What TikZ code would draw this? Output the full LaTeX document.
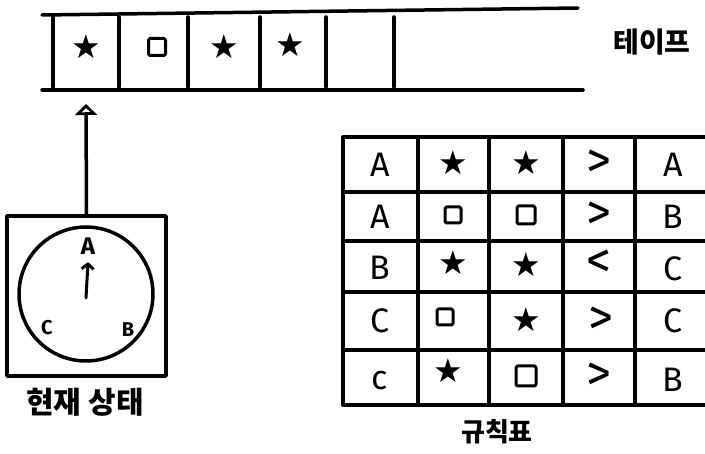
\documentclass[tikz,border=0pt]{standalone}
\usepackage{fontspec}
\setmainfont{Fira Sans}
\newfontfamily\kr{Noto Sans CJK KR}
\newfontfamily\symf{DejaVu Sans}
\usetikzlibrary{arrows.meta}
\newcommand\mystar{{\symf\fontsize{33}{35}\selectfont ★}}
\begin{document}
\begin{tikzpicture}[x=1pt,y=-1pt,line width=3.5pt,line cap=round,line join=round,
  lbl/.style={font=\fontsize{34}{36}\selectfont,inner sep=0pt},
  cmp/.style={font=\fontsize{50}{52}\selectfont,inner sep=0pt},
  sq/.style={draw,line width=3pt,minimum size=16pt,inner sep=0pt,rounded corners=1.5pt},
  dl/.style={font=\bfseries\fontsize{24}{26}\selectfont,inner sep=0pt},
  kr/.style={font=\kr\bfseries\fontsize{28}{30}\selectfont,inner sep=0pt}]
\useasboundingbox (0,0) rectangle (705,454);
% tape
\draw (42,15) -- (578,8);
\draw (42,90) -- (583,90);
\foreach \x in {53,119,188,260,326,394} \draw (\x,17) -- (\x,87);
\node (t1) at (86,47) {\mystar};
\node[sq,minimum size=17pt] (t2) at (157,47) {};
\node (t3) at (224,47) {\mystar};
\node (t4) at (290,45) {\mystar};
\node[kr] (tape) at (652,42) {테이프};
% state box
\node[draw,minimum width=159pt,minimum height=160pt,inner sep=0pt] (state) at (86.5,296) {};
\node[draw,circle,minimum size=134pt,inner sep=0pt] (dial) at (86,294) {};
\coordinate (head) at (86,104);
\draw[-{Triangle[open,width=22pt,length=11pt]}] (state.north) -- (head);
\node[dl] (dA) at (88,246) {A};
\node[dl,font=\bfseries\fontsize{20}{22}\selectfont] (dC) at (47,328) {C};
\node[dl,font=\bfseries\fontsize{20}{22}\selectfont] (dB) at (128,330) {B};
\draw[line width=3pt,-{Straight Barb[length=5pt,width=12pt]}] ([yshift=-4pt]dial.center) -- ([yshift=-6pt]dA.south);
\node[kr,font=\kr\bfseries\fontsize{30}{32}\selectfont] (cur) at (85,402) {현재 상태};
% rule table
\foreach \y in {137,192,241,292,350,405} \draw (343,\y) -- (710,\y);
\foreach \x in {343,418,489,563,635} \draw (\x,137) -- (\x,405);
\node[lbl] (r1c1) at (380,165) {A};
\node (r1c2) at (453,163) {\mystar};
\node (r1c3) at (526,163) {\mystar};
\node[cmp] (r1c4) at (599,164) {>};
\node[lbl] (r1c5) at (673,165) {A};
\node[lbl] (r2c1) at (380,217) {A};
\node[sq] (r2c2) at (453,215) {};
\node[sq,minimum size=18pt] (r2c3) at (526,215) {};
\node[cmp] (r2c4) at (599,216) {>};
\node[lbl] (r2c5) at (673,217) {B};
\node[lbl] (r3c1) at (380,268) {B};
\node (r3c2) at (453,263) {\mystar};
\node (r3c3) at (526,265) {\mystar};
\node[cmp] (r3c4) at (599,264) {<};
\node[lbl] (r3c5) at (673,269) {C};
\node[lbl] (r4c1) at (380,321) {C};
\node[sq] (r4c2) at (445,317) {};
\node (r4c3) at (526,320) {\mystar};
\node[cmp] (r4c4) at (601,321) {>};
\node[lbl] (r4c5) at (673,321) {C};
\node[lbl] (r5c1) at (380,381) {c};
\node (r5c2) at (448,371) {\mystar};
\node[sq,minimum size=20pt] (r5c3) at (526,376) {};
\node[cmp] (r5c4) at (599,377) {>};
\node[lbl] (r5c5) at (673,380) {B};
\node[kr,font=\kr\bfseries\fontsize{26}{28}\selectfont] (rules) at (497,432) {규칙표};
\end{tikzpicture}
\end{document}
